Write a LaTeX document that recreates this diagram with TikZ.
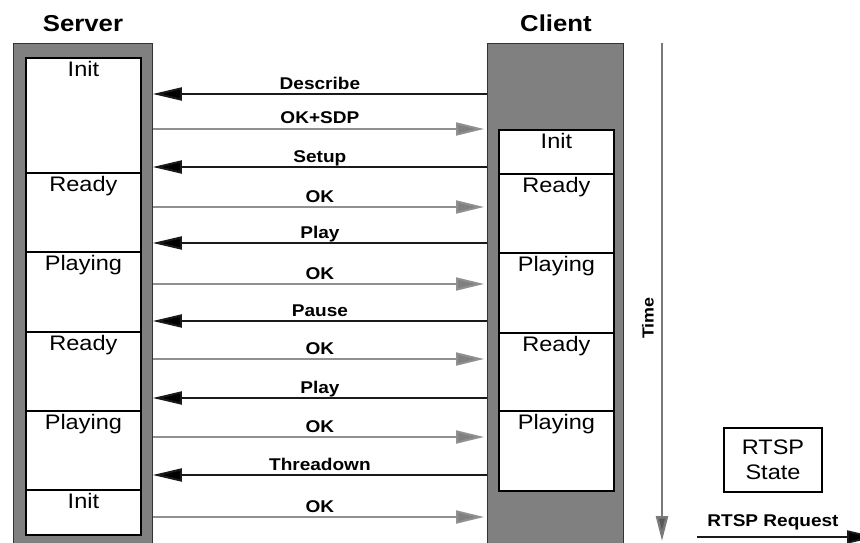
\documentclass[tikz,border=0pt]{standalone}
\usepackage{fontspec}
\setmainfont{Liberation Sans}[FakeStretch=1.12]
\usetikzlibrary{arrows.meta}
\definecolor{lifegray}{HTML}{808080}
\definecolor{respgray}{HTML}{909090}
\definecolor{reqblack}{HTML}{1A1A1A}
\definecolor{timegray}{HTML}{7A7A7A}
\begin{document}
\begin{tikzpicture}[x=1pt,y=-1pt,
  lifeline/.style={draw=black!80, line width=0.8pt, fill=lifegray, inner sep=0pt, anchor=north west},
  statebox/.style={draw=black, line width=1.8pt, fill=white, inner sep=0pt, minimum width=115pt, anchor=north west},
  statetxt/.style={font=\fontsize{21}{25}\selectfont, anchor=north, inner sep=0pt, yshift=-4pt},
  header/.style={font=\fontsize{23}{27}\selectfont\bfseries, anchor=base},
  lbl/.style={font=\fontsize{17}{20}\selectfont\bfseries, anchor=base, yshift=5pt, inner sep=0pt},
  req/.style={draw=reqblack, line width=2pt, -{Triangle[length=29pt,width=13pt,fill=black]}},
  resp/.style={draw=respgray, line width=2pt, shorten >=3pt, -{Triangle[length=28pt,width=13pt,fill=lifegray]}},
  timearr/.style={draw=timegray, line width=2.5pt, -{Triangle[length=25pt,width=12pt,fill=black!65]}},
  legend/.style={draw=black, line width=1.5pt, align=center, minimum width=98pt, minimum height=64pt, inner sep=0pt, font=\fontsize{21}{25}\selectfont}
]
\clip (0,0) rectangle (860,543);
\fill[white] (0,0) rectangle (860,543);

% headers
\node[header] (hsrv) at (83,32) {Server};
\node[header] (hcli) at (556,32) {Client};

% lifelines
\node[lifeline, minimum width=139pt, minimum height=520pt] (srv) at (13,43) {};
\node[lifeline, minimum width=136pt, minimum height=520pt] (cli) at (487,43) {};

% server states
\node[statebox, minimum height=115pt] (s1) at (25,57) {};
\node[statebox, minimum height=79pt] (s2) at (25,172) {};
\node[statebox, minimum height=80pt] (s3) at (25,251) {};
\node[statebox, minimum height=79pt] (s4) at (25,331) {};
\node[statebox, minimum height=79pt] (s5) at (25,410) {};
\node[statebox, minimum height=45pt] (s6) at (25,489) {};
\node[statetxt] at (s1.north) {Init};
\node[statetxt] at (s2.north) {Ready};
\node[statetxt] at (s3.north) {Playing};
\node[statetxt] at (s4.north) {Ready};
\node[statetxt] at (s5.north) {Playing};
\node[statetxt] at (s6.north) {Init};

% client states
\node[statebox, minimum height=44pt] (c1) at (498,129) {};
\node[statebox, minimum height=79pt] (c2) at (498,173) {};
\node[statebox, minimum height=80pt] (c3) at (498,252) {};
\node[statebox, minimum height=78pt] (c4) at (498,332) {};
\node[statebox, minimum height=80pt] (c5) at (498,410) {};
\node[statetxt] at (c1.north) {Init};
\node[statetxt] at (c2.north) {Ready};
\node[statetxt] at (c3.north) {Playing};
\node[statetxt] at (c4.north) {Ready};
\node[statetxt] at (c5.north) {Playing};

% requests (client -> server)
\draw[req] (cli.west |- 0,94)  -- node[lbl] {Describe}  (srv.east |- 0,94);
\draw[req] (cli.west |- 0,167) -- node[lbl] {Setup}     (srv.east |- 0,167);
\draw[req] (cli.west |- 0,243) -- node[lbl] {Play}      (srv.east |- 0,243);
\draw[req] (cli.west |- 0,321) -- node[lbl] {Pause}     (srv.east |- 0,321);
\draw[req] (cli.west |- 0,398) -- node[lbl] {Play}      (srv.east |- 0,398);
\draw[req] (cli.west |- 0,475) -- node[lbl] {Threadown} (srv.east |- 0,475);

% responses (server -> client)
\draw[resp] (srv.east |- 0,129) -- node[lbl] {OK+SDP} (cli.west |- 0,129);
\draw[resp] (srv.east |- 0,207) -- node[lbl] {OK} (cli.west |- 0,207);
\draw[resp] (srv.east |- 0,284) -- node[lbl] {OK} (cli.west |- 0,284);
\draw[resp] (srv.east |- 0,359) -- node[lbl] {OK} (cli.west |- 0,359);
\draw[resp] (srv.east |- 0,437) -- node[lbl] {OK} (cli.west |- 0,437);
\draw[resp] (srv.east |- 0,517) -- node[lbl] {OK} (cli.west |- 0,517);

% time axis
\coordinate (t0) at (662,43);
\coordinate (t1) at (662,541);
\draw[timearr] (t0) -- (t1);
\node[font=\fontsize{16}{19}\selectfont\bfseries, rotate=90] (time) at (648,318) {Time};

% legend
\node[legend] (leg) at (773,460) {RTSP\\State};
\node[lbl, yshift=0pt] (rq) at (773,531) {RTSP Request};
\coordinate (r0) at (697,537);
\coordinate (r1) at (876,537);
\draw[req] (r0) -- (r1);
\end{tikzpicture}
\end{document}
